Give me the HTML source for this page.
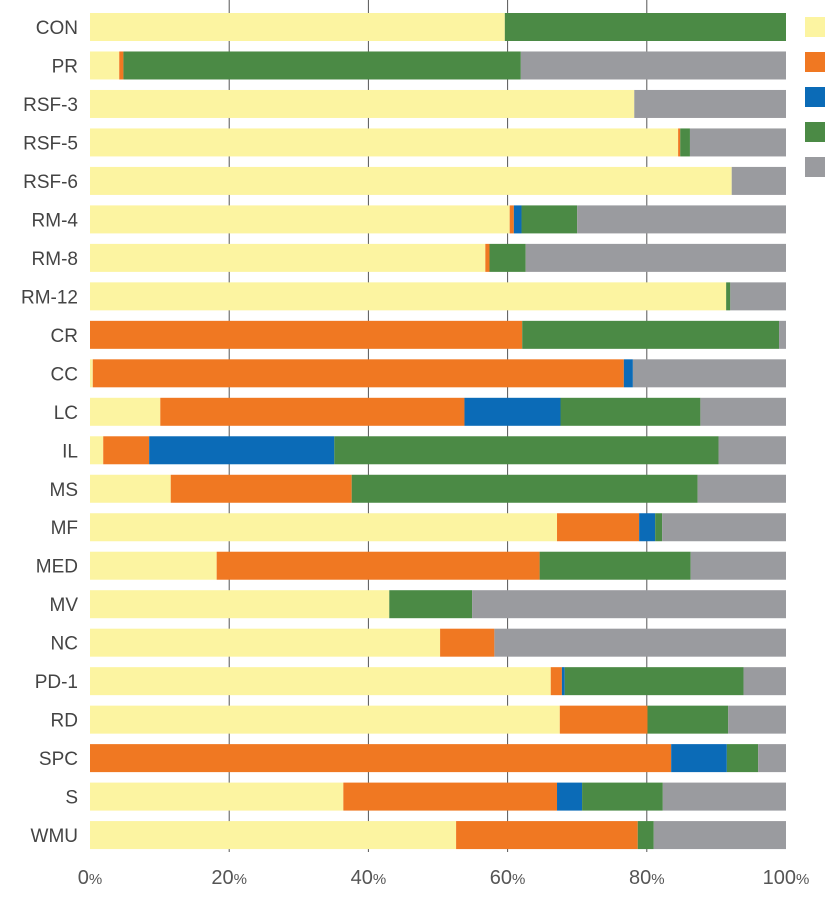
<!DOCTYPE html>
<html><head><meta charset="utf-8"><style>
body{margin:0;background:#fff;width:830px;height:904px;overflow:hidden}
svg text{font-family:"Liberation Sans",sans-serif}
</style></head><body>
<svg id="chart" width="830" height="904"></svg>
<script>
const categories=["CON","PR","RSF-3","RSF-5","RSF-6","RM-4","RM-8","RM-12","CR","CC","LC","IL","MS","MF","MED","MV","NC","PD-1","RD","SPC","S","WMU"];
const seriesYellow=[59.6,4.2,78.2,84.5,92.2,60.3,56.8,91.4,0,0.4,10.1,1.9,11.6,67.1,18.2,43.0,50.3,66.2,67.5,0,36.4,52.6];
const seriesOrange=[0,0.6,0,0.3,0,0.6,0.6,0,62.1,76.3,43.7,6.6,26.0,11.8,46.4,0,7.8,1.6,12.6,83.5,30.7,26.1];
const seriesBlue=[0,0,0,0,0,1.1,0,0,0,1.3,13.8,26.6,0,2.3,0,0,0,0.4,0,8.0,3.6,0];
const seriesGreen=[40.4,57.1,0,1.4,0,8.0,5.2,0.6,36.9,0,20.1,55.2,49.7,1.0,21.7,11.9,0,25.7,11.6,4.5,11.6,2.3];
const seriesGray=[0,38.1,21.8,13.8,7.8,30.0,37.4,8.0,1.0,22.0,12.3,9.7,12.7,17.8,13.7,45.1,41.9,6.1,8.3,4.0,17.7,19.0];
const tickValues=[0,20,40,60,80,100];
const series=[
 {name:"yellow",vals:seriesYellow,color:"#fcf4a1"},
 {name:"orange",vals:seriesOrange,color:"#f07822"},
 {name:"blue",vals:seriesBlue,color:"#0b6bb7"},
 {name:"green",vals:seriesGreen,color:"#4b8a45"},
 {name:"gray",vals:seriesGray,color:"#9a9b9f"}];
const NS="http://www.w3.org/2000/svg";
const svg=document.getElementById("chart");
const x0=90,x1=786,rowTop=27,rowStep=38.48,barH=28;
const xs=v=>x0+(x1-x0)*v/100;
const yc=i=>rowTop+i*rowStep;
function mk(t,a){const e=document.createElementNS(NS,t);for(const k in a)e.setAttribute(k,a[k]);svg.appendChild(e);return e;}
// bars
categories.forEach((c,i)=>{
 let acc=0;
 series.forEach(s=>{
  const v=s.vals[i];
  if(v>0){
   const r=mk("rect",{x:xs(acc),y:yc(i)-barH/2,width:xs(acc+v)-xs(acc),height:barH,fill:s.color});
   
   
  }
  acc+=v;
 });
 const t=mk("text",{x:78,y:yc(i)+7,"text-anchor":"end","font-size":19,fill:"#444"});
 t.textContent=c;
 
 
});
// gridlines
tickValues.forEach(v=>{
 if(v>0&&v<100){
  const l=mk("line",{x1:xs(v),x2:xs(v),y1:0,y2:852,stroke:"#555","stroke-width":1});
  
  
  svg.insertBefore(l,svg.firstChild);
 }
 const t=mk("text",{x:xs(v),y:884,"text-anchor":"middle","font-size":20,fill:"#555"});
 t.innerHTML=v+'<tspan font-size="15">%</tspan>';
 
 
});
// legend
series.forEach((s,i)=>{
 const r=mk("rect",{x:805,y:17+i*35,width:20,height:20,fill:s.color});
 
 
});
</script>
</body></html>
